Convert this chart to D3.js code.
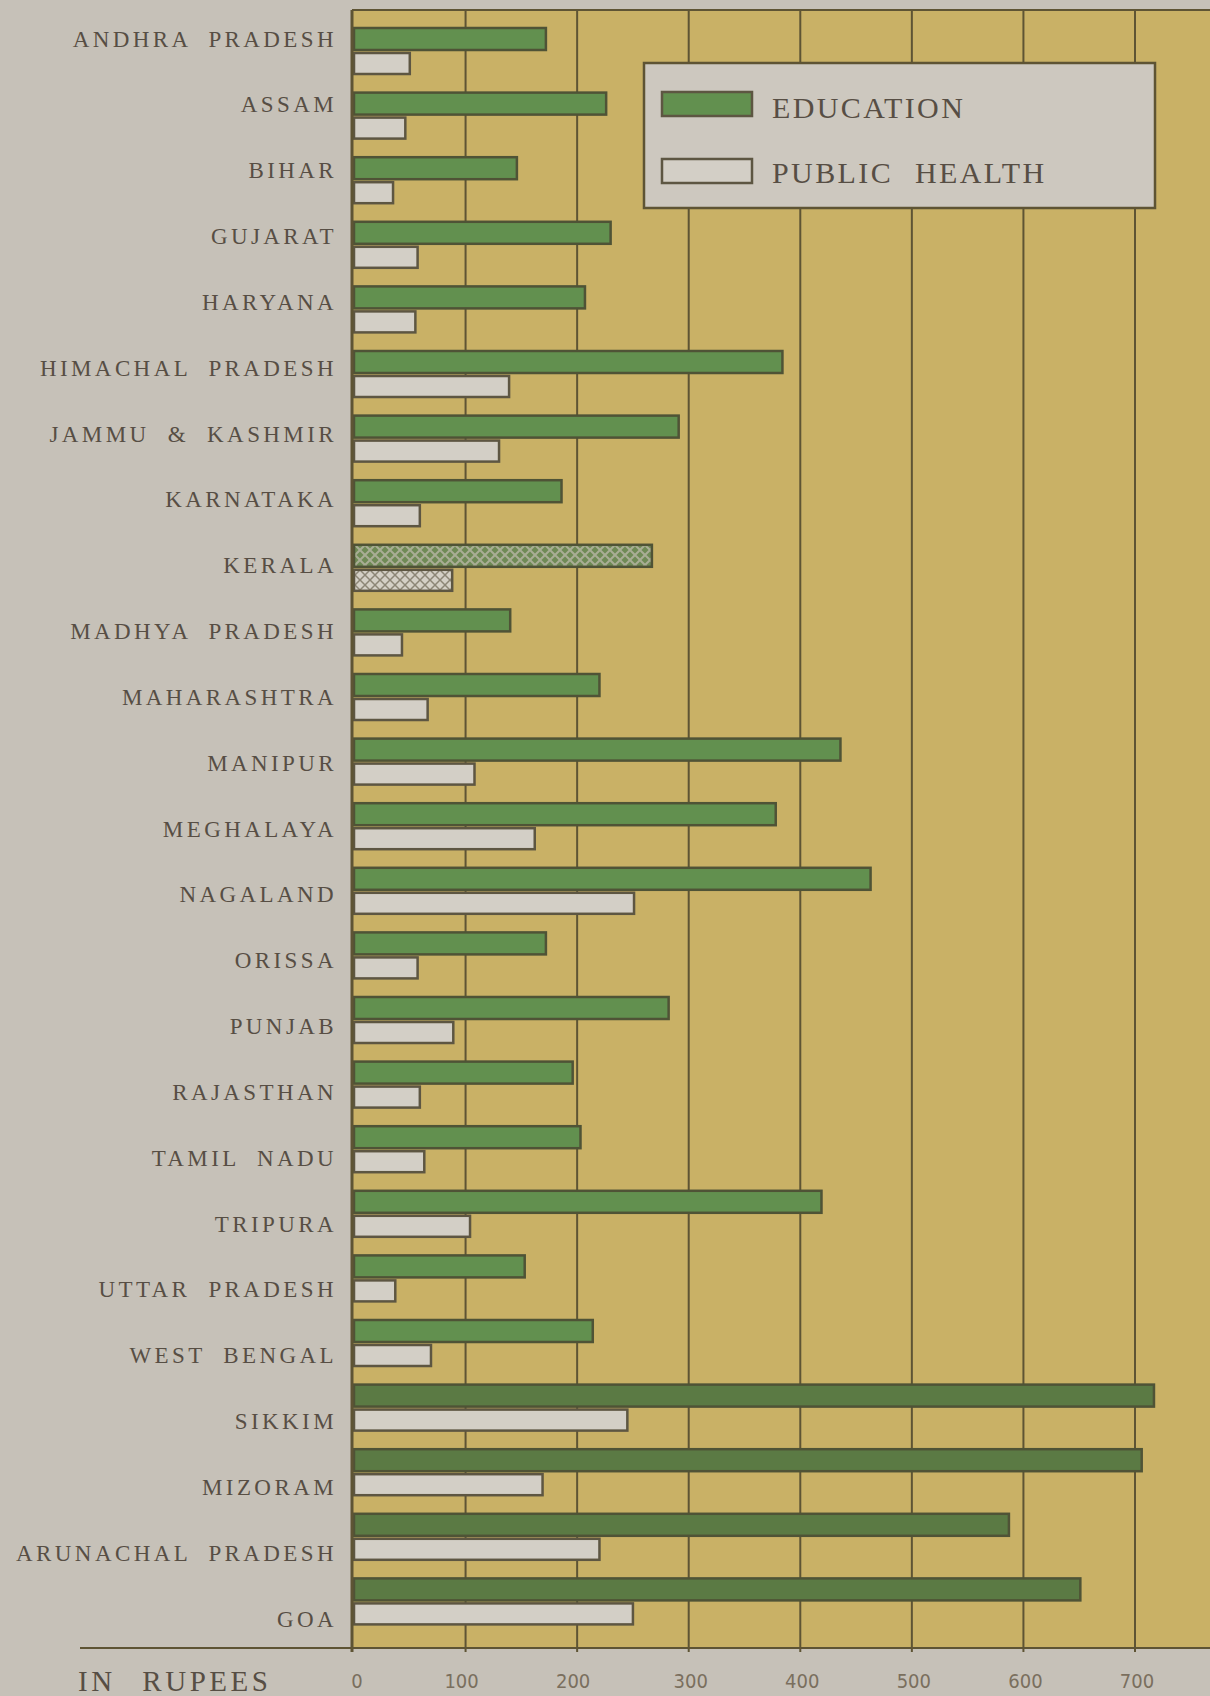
<!DOCTYPE html>
<html>
<head>
<meta charset="utf-8">
<script src="https://cdn.jsdelivr.net/npm/d3@7"></script>
<style>
  body { margin: 0; background: #c6c1b8; }
  text { font-family: "Liberation Serif", "DejaVu Serif", serif; fill: #574e44; }
</style>
</head>
<body>
<script>
var width = 1210, height = 1696

// states, top to bottom
var states = ["ANDHRA PRADESH", "ASSAM", "BIHAR", "GUJARAT", "HARYANA", "HIMACHAL PRADESH",
  "JAMMU & KASHMIR", "KARNATAKA", "KERALA", "MADHYA PRADESH", "MAHARASHTRA", "MANIPUR",
  "MEGHALAYA", "NAGALAND", "ORISSA", "PUNJAB", "RAJASTHAN", "TAMIL NADU", "TRIPURA",
  "UTTAR PRADESH", "WEST BENGAL", "SIKKIM", "MIZORAM", "ARUNACHAL PRADESH", "GOA"]

// rupees per head
var education = [172, 226, 146, 230, 207, 384, 291, 186, 267, 140, 220, 436, 378, 463,
  172, 282, 196, 203, 419, 153, 214, 717, 706, 587, 651]
var publicHealth = [50, 46, 35, 57, 55, 139, 130, 59, 88, 43, 66, 108, 162, 251,
  57, 89, 59, 63, 104, 37, 69, 245, 169, 220, 250]

var ticks = [0, 100, 200, 300, 400, 500, 600, 700]

var svg = d3.select("body").append("svg")
  .attr("width", width)
  .attr("height", height)

var x = d3.scaleLinear().domain([0, 700]).range([354, 1135])
var y = d3.scaleBand().domain(states).range([22, 1637])
var yLabel = d3.scalePoint().domain(states).range([39, 1619])

var plotTop = 10, plotBottom = 1648

//background of the plot area
svg.append("rect")
  .attr("x", 352).attr("y", plotTop)
  .attr("width", width - 352).attr("height", plotBottom - plotTop)
  .attr("fill", "#c9b166")

//grid lines
svg.append("g")
  .selectAll("line")
  .data(ticks.slice(1))
  .enter().append("line")
  .attr("x1", function(d) { return x(d); })
  .attr("x2", function(d) { return x(d); })
  .attr("y1", plotTop)
  .attr("y2", plotBottom + 4)
  .attr("stroke", "#5e5434")
  .attr("stroke-width", 2)

//hatch pattern for kerala
var defs = svg.append("defs")
var pat = defs.append("pattern")
  .attr("id", "hatch")
  .attr("patternUnits", "userSpaceOnUse")
  .attr("width", 10).attr("height", 10)
pat.append("rect").attr("width", 10).attr("height", 10).attr("fill", "#6f8a55")
pat.append("path").attr("d", "M0,0 L10,10 M10,0 L0,10")
  .attr("stroke", "#a9ad95").attr("stroke-width", 2)
var pat2 = defs.append("pattern")
  .attr("id", "hatch2")
  .attr("patternUnits", "userSpaceOnUse")
  .attr("width", 10).attr("height", 10)
pat2.append("rect").attr("width", 10).attr("height", 10).attr("fill", "#d4d0c6")
pat2.append("path").attr("d", "M0,0 L10,10 M10,0 L0,10")
  .attr("stroke", "#8c8676").attr("stroke-width", 1.5)

var rows = states.map(function(s, i) {
  return { state: s, edu: education[i], ph: publicHealth[i] }
})

//public health bars
svg.append("g")
  .selectAll("rect")
  .data(rows)
  .enter().append("rect")
  .attr("x", x(0))
  .attr("y", function(d) { return y(d.state) + 31; })
  .attr("width", function(d) { return x(d.ph) - x(0); })
  .attr("height", 21)
  .attr("fill", function(d) { return d.state == "KERALA" ? "url(#hatch2)" : "#d3cfc6"; })
  .attr("stroke", "#5d5642")
  .attr("stroke-width", 2.5)

//education bars
svg.append("g")
  .selectAll("rect")
  .data(rows)
  .enter().append("rect")
  .attr("x", x(0))
  .attr("y", function(d) { return y(d.state) + 6; })
  .attr("width", function(d) { return x(d.edu) - x(0); })
  .attr("height", 22)
  .attr("fill", function(d) {
    if (d.state == "KERALA") return "url(#hatch)"
    return d.edu > 500 ? "#5b7a44" : "#62904f"
  })
  .attr("stroke", "#4f5336")
  .attr("stroke-width", 2.5)

//left axis line
svg.append("line")
  .attr("x1", 352).attr("x2", 352)
  .attr("y1", plotTop).attr("y2", plotBottom + 4)
  .attr("stroke", "#5e5434").attr("stroke-width", 3)

//top border
svg.append("line")
  .attr("x1", 352).attr("x2", width)
  .attr("y1", plotTop).attr("y2", plotTop)
  .attr("stroke", "#5e5434").attr("stroke-width", 2)

//bottom rule
svg.append("line")
  .attr("x1", 80).attr("x2", width)
  .attr("y1", plotBottom).attr("y2", plotBottom)
  .attr("stroke", "#5e5434").attr("stroke-width", 2)

//state labels
svg.append("g")
  .selectAll("text")
  .data(states)
  .enter().append("text")
  .attr("x", 337)
  .attr("y", function(d) { return yLabel(d); })
  .attr("text-anchor", "end")
  .attr("dominant-baseline", "central")
  .style("font-size", "23px")
  .style("letter-spacing", "3.4px")
  .style("word-spacing", "9px")
  .text(function(d) { return d; })

//x tick labels
svg.append("g")
  .selectAll("text")
  .data(ticks)
  .enter().append("text")
  .attr("x", function(d) { return x(d) + (d == 0 ? 3 : d < 300 ? -4 : 2); })
  .attr("y", 1688)
  .attr("text-anchor", "middle")
  .style("font-family", "'Liberation Sans Narrow', 'DejaVu Sans Condensed', sans-serif")
  .style("font-size", "20px")
  .style("fill", "#7a6f5e")
  .text(function(d) { return d; })

svg.append("text")
  .attr("x", 78).attr("y", 1691)
  .style("font-size", "29px")
  .style("letter-spacing", "3.5px")
  .style("word-spacing", "16px")
  .text("IN RUPEES")

//legend
var legend = svg.append("g")
legend.append("rect")
  .attr("x", 644).attr("y", 63)
  .attr("width", 511).attr("height", 145)
  .attr("fill", "#cdc8bf")
  .attr("stroke", "#5e5434").attr("stroke-width", 2.5)

var legendItems = [
  { name: "EDUCATION", fill: "#62904f" },
  { name: "PUBLIC HEALTH", fill: "#d3cfc6" }
]
legend.selectAll(".sw")
  .data(legendItems)
  .enter().append("rect")
  .attr("x", 662)
  .attr("y", function(d, i) { return 92 + i * 67; })
  .attr("width", 90).attr("height", 24)
  .attr("fill", function(d) { return d.fill; })
  .attr("stroke", "#5d5642").attr("stroke-width", 2.5)
legend.selectAll(".lt")
  .data(legendItems)
  .enter().append("text")
  .attr("x", 772)
  .attr("y", function(d, i) { return 107 + i * 65; })
  .attr("dominant-baseline", "central")
  .style("font-size", "30px")
  .style("letter-spacing", "2.4px")
  .style("word-spacing", "12px")
  .text(function(d) { return d.name; })
</script>
</body>
</html>
